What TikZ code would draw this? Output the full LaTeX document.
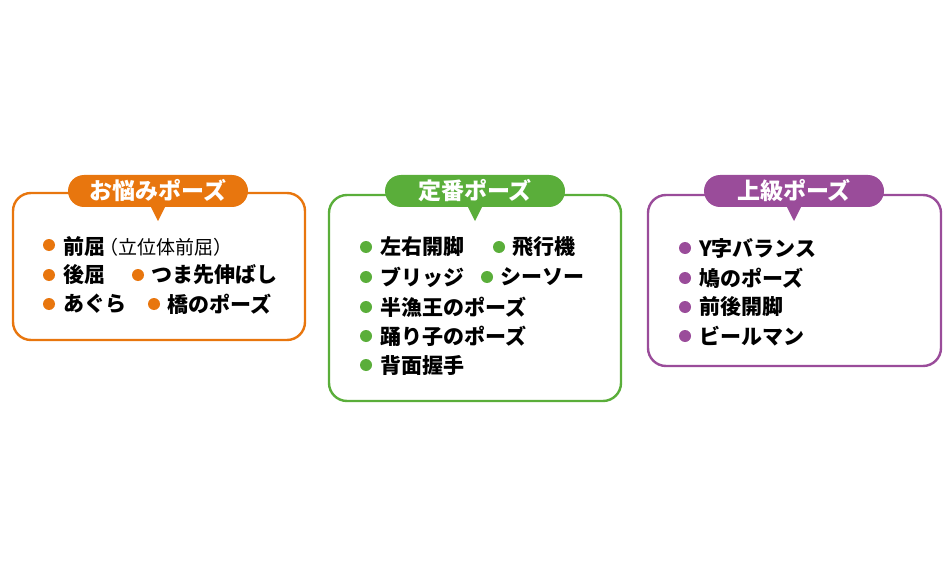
\documentclass[tikz,border=0pt]{standalone}
\usepackage{fontspec}
\setmainfont{Noto Sans CJK JP}[BoldFont={* Black}]
\usetikzlibrary{calc}
\definecolor{poseorange}{HTML}{E8760E}
\definecolor{posegreen}{HTML}{5AAE3A}
\definecolor{posepurple}{HTML}{9A4C9A}
\tikzset{
  box/.style={draw=#1, line width=2.4pt, rounded corners=18pt, fill=white},
  tag/.style={fill=#1, text=white, rounded corners=16pt, inner sep=0pt,
    minimum width=180pt, minimum height=32pt,
    font=\bfseries\fontsize{23}{23}\selectfont},
  pose/.style={anchor=west, inner sep=0pt, font=\bfseries\fontsize{21}{21}\selectfont},
  dot/.style={fill=#1},
}
\begin{document}
\begin{tikzpicture}[x=1pt,y=-1pt]
            \useasboundingbox (0,0) rectangle (950,588);
            % boxes
            \draw[box=poseorange] (13,193) rectangle (305,340);
            \draw[box=posegreen] (329,195) rectangle (621,401);
            \draw[box=posepurple] (648,195) rectangle (941,366);
            % tags
            \node[tag=poseorange] (tagA) at (158,191) {お悩みポーズ};
            \node[tag=posegreen] (tagB) at (475,191) {定番ポーズ};
            \node[tag=posepurple] (tagC) at (794,191) {上級ポーズ};
            \coordinate (tipA) at (158,221);
            \coordinate (tipB) at (475,221);
            \coordinate (tipC) at (794,221);
            \fill[poseorange] ([xshift=-7pt]tagA.south) -- (tipA) -- ([xshift=7pt]tagA.south) -- cycle;
            \fill[posegreen] ([xshift=-7pt]tagB.south) -- (tipB) -- ([xshift=7pt]tagB.south) -- cycle;
            \fill[posepurple] ([xshift=-7pt]tagC.south) -- (tipC) -- ([xshift=7pt]tagC.south) -- cycle;
            % worries
            \fill[dot=poseorange] (49,245) circle (6);
            \fill[dot=poseorange] (49,275) circle (6);
            \fill[dot=poseorange] (138,275) circle (6);
            \fill[dot=poseorange] (49,304) circle (6);
            \fill[dot=poseorange] (154,304) circle (6);
            \node[pose] (zenkutsu) at (63,246) {前屈\kern-6pt\mdseries\fontsize{19}{19}\selectfont （立位体前屈）};
            \node[pose] (koukutsu) at (63,275) {後屈};
            \node[pose] (tsumasaki) at (151,275) {つま先伸ばし};
            \node[pose] (agura) at (63,304) {あぐら};
            \node[pose] (hashi) at (167,304) {橋のポーズ};
            % standard
            \fill[dot=posegreen] (366,247) circle (6);
            \fill[dot=posegreen] (499,247) circle (6);
            \fill[dot=posegreen] (366,277) circle (6);
            \fill[dot=posegreen] (487,277) circle (6);
            \fill[dot=posegreen] (366,307) circle (6);
            \fill[dot=posegreen] (366,336) circle (6);
            \fill[dot=posegreen] (366,365) circle (6);
            \node[pose] (sayuu) at (380,247) {左右開脚};
            \node[pose] (hikouki) at (512,247) {飛行機};
            \node[pose] (bridge) at (380,277) {ブリッジ};
            \node[pose] (seesaw) at (500,277) {シーソー};
            \node[pose] (hangyo) at (380,307) {半漁王のポーズ};
            \node[pose] (odoriko) at (380,336) {踊り子のポーズ};
            \node[pose] (haimen) at (380,365) {背面握手};
            % advanced
            \fill[dot=posepurple] (685,248) circle (6);
            \fill[dot=posepurple] (685,278) circle (6);
            \fill[dot=posepurple] (685,307) circle (6);
            \fill[dot=posepurple] (685,336) circle (6);
            \node[pose] (yji) at (699,248) {Y字バランス};
            \node[pose] (hato) at (699,278) {鳩のポーズ};
            \node[pose] (zengo) at (699,307) {前後開脚};
            \node[pose] (bielmann) at (699,336) {ビールマン};
\end{tikzpicture}
\end{document}
